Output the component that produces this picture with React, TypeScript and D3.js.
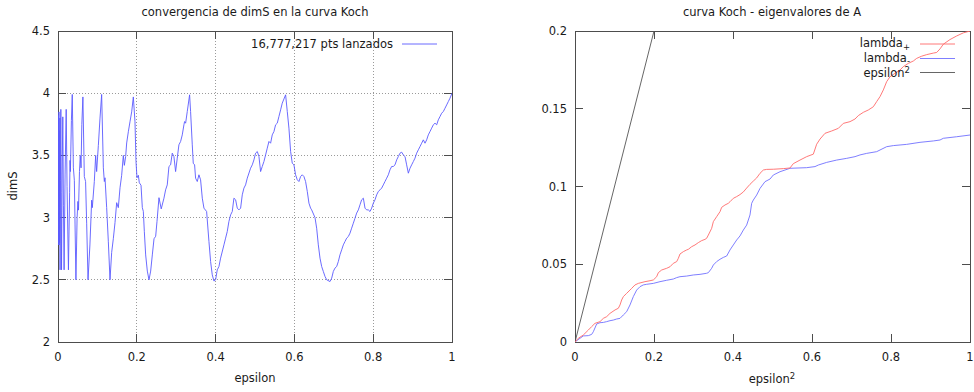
import React from "react";
import * as d3 from "d3";

// ---------- DATA ----------
const leftXTicks = [0, 0.2, 0.4, 0.6, 0.8, 1];
const leftYTicks = [2, 2.5, 3, 3.5, 4, 4.5];
const rightXTicks = [0, 0.2, 0.4, 0.6, 0.8, 1];
const rightYTicks = [0, 0.05, 0.1, 0.15, 0.2];

const leftTitle = "convergencia de dimS en la curva Koch";
const rightTitle = "curva Koch - eigenvalores de A";
const leftLegend = "16,777,217 pts lanzados";

// dimS vs epsilon
const dimSData: [number, number][] = [
  [0, 3.35], [0.0003, 2.78], [0.0006, 3.6], [0.0009, 2.95], [0.0012, 3.82], [0.0015, 2.8],
  [0.0018, 3.4], [0.0021, 3.1], [0.0024, 3.85], [0.0027, 2.78], [0.003, 3.55], [0.0033, 2.9],
  [0.0036, 3.7], [0.004, 2.8], [0.0044, 3.3], [0.0048, 3.8], [0.0052, 2.58], [0.0062, 3.3],
  [0.0072, 3.87], [0.008, 3.2], [0.009, 2.58], [0.0105, 3.35], [0.0122, 3.81], [0.0138, 3.1],
  [0.0155, 2.58], [0.018, 3.35], [0.0208, 3.87], [0.023, 3.25], [0.0265, 2.58], [0.0295, 3.2],
  [0.0305, 3.46], [0.0315, 3.37], [0.034, 3.78], [0.0362, 3.99], [0.039, 3.4], [0.0415, 3.3],
  [0.0435, 2.9], [0.0455, 2.5], [0.0485, 3.0], [0.0505, 3.13], [0.052, 3.06], [0.0545, 3.37],
  [0.0565, 3.5], [0.0585, 3.4], [0.0605, 3.75], [0.0632, 3.97], [0.0668, 3.33], [0.07, 3.29],
  [0.0728, 2.95], [0.0762, 2.5], [0.081, 2.78], [0.0855, 3.14], [0.0871, 3.08], [0.0922, 3.29],
  [0.0956, 3.5], [0.0981, 3.37], [0.1024, 3.58], [0.1066, 3.8], [0.1108, 3.99], [0.1151, 3.4],
  [0.1176, 3.29], [0.1193, 3.32], [0.1235, 3.08], [0.1277, 2.81], [0.132, 2.5], [0.1362, 2.72],
  [0.1404, 2.83], [0.1447, 2.96], [0.1489, 3.12], [0.1531, 3.08], [0.1574, 3.24], [0.1616, 3.34],
  [0.1658, 3.5], [0.1684, 3.42], [0.1717, 3.49], [0.1743, 3.6], [0.1785, 3.69], [0.1827, 3.77],
  [0.187, 3.85], [0.1912, 3.97], [0.1954, 3.77], [0.198, 3.45], [0.2005, 3.32], [0.2039, 3.34],
  [0.2064, 3.28], [0.2107, 3.26], [0.214, 3.08], [0.2166, 3.05], [0.2191, 2.89], [0.2225, 2.7],
  [0.2267, 2.57], [0.231, 2.5], [0.2352, 2.57], [0.2394, 2.7], [0.2437, 2.83], [0.2479, 2.85],
  [0.2513, 2.97], [0.2563, 3.16], [0.262, 3.07], [0.2689, 3.156], [0.2731, 3.223], [0.2773, 3.263],
  [0.2816, 3.411], [0.2858, 3.424], [0.29, 3.518], [0.2942, 3.491], [0.2985, 3.37], [0.3027, 3.478],
  [0.3069, 3.585], [0.3112, 3.612], [0.3154, 3.665], [0.3196, 3.746], [0.3213, 3.772], [0.3239, 3.759],
  [0.3281, 3.853], [0.334, 3.987], [0.3365, 3.853], [0.3408, 3.585], [0.3433, 3.437], [0.3467, 3.424],
  [0.3492, 3.317], [0.3535, 3.29], [0.3577, 3.344], [0.3619, 3.304], [0.3662, 3.156], [0.3704, 3.076],
  [0.3772, 3.049], [0.3831, 2.808], [0.3873, 2.647], [0.3915, 2.54], [0.3958, 2.49], [0.4, 2.5],
  [0.4042, 2.58], [0.4085, 2.607], [0.4127, 2.674], [0.4212, 2.781], [0.4254, 2.835], [0.4296, 2.888],
  [0.4338, 2.969], [0.4381, 3.022], [0.4423, 3.049], [0.4465, 3.156], [0.4508, 3.143], [0.455, 3.076],
  [0.4592, 3.062], [0.4635, 3.076], [0.4677, 3.183], [0.4719, 3.237], [0.4761, 3.263], [0.4804, 3.317],
  [0.4888, 3.397], [0.4931, 3.424], [0.4973, 3.464], [0.5015, 3.518], [0.5058, 3.531], [0.51, 3.491],
  [0.5142, 3.37], [0.5184, 3.411], [0.5227, 3.451], [0.5269, 3.504], [0.5311, 3.558], [0.5354, 3.612],
  [0.5396, 3.598], [0.5438, 3.665], [0.5481, 3.692], [0.5523, 3.746], [0.5565, 3.759], [0.5607, 3.812],
  [0.565, 3.866], [0.5692, 3.92], [0.5777, 3.987], [0.5819, 3.853], [0.5861, 3.719], [0.5904, 3.531],
  [0.5946, 3.437], [0.5988, 3.424], [0.603, 3.344], [0.6073, 3.304], [0.6115, 3.29], [0.6157, 3.33],
  [0.62, 3.344], [0.6242, 3.33], [0.6284, 3.29], [0.6327, 3.21], [0.6369, 3.116], [0.6411, 3.076],
  [0.6438, 3.062], [0.6523, 3.0], [0.6565, 2.915], [0.6607, 2.781], [0.665, 2.674], [0.6692, 2.607],
  [0.6734, 2.567], [0.6777, 2.527], [0.6819, 2.5], [0.6904, 2.486], [0.6946, 2.513], [0.6988, 2.567],
  [0.703, 2.594], [0.7073, 2.607], [0.7115, 2.647], [0.7157, 2.701], [0.72, 2.741], [0.7242, 2.781],
  [0.7284, 2.808], [0.7327, 2.835], [0.7369, 2.848], [0.7411, 2.875], [0.7453, 2.915], [0.7496, 2.955],
  [0.7538, 2.995], [0.758, 3.036], [0.7623, 3.062], [0.7665, 3.103], [0.7707, 3.143], [0.775, 3.156],
  [0.7792, 3.076], [0.7834, 3.062], [0.7876, 3.062], [0.7919, 3.049], [0.7961, 3.076], [0.8003, 3.116],
  [0.8046, 3.143], [0.8088, 3.183], [0.813, 3.21], [0.8173, 3.223], [0.8215, 3.237], [0.8257, 3.263],
  [0.8299, 3.29], [0.8342, 3.317], [0.8384, 3.344], [0.8426, 3.384], [0.8469, 3.411], [0.8511, 3.411],
  [0.8553, 3.424], [0.8596, 3.464], [0.8638, 3.491], [0.868, 3.518], [0.8723, 3.526], [0.8765, 3.504],
  [0.8807, 3.491], [0.8849, 3.424], [0.8892, 3.357], [0.8934, 3.397], [0.8976, 3.424], [0.9019, 3.451],
  [0.9061, 3.478], [0.9103, 3.518], [0.9146, 3.545], [0.9188, 3.571], [0.923, 3.598], [0.9272, 3.625],
  [0.9315, 3.598], [0.9357, 3.625], [0.9399, 3.665], [0.9442, 3.692], [0.9484, 3.719], [0.9526, 3.746],
  [0.9569, 3.759], [0.9611, 3.746], [0.9653, 3.786], [0.9695, 3.812], [0.9738, 3.839], [0.978, 3.853],
  [0.9822, 3.879], [0.9865, 3.906], [0.9907, 3.933], [0.9949, 3.96], [1.0, 4.0],
];

// lambda+ vs epsilon^2
const lambdaPlus: [number, number][] = [
  [0, 0], [0.0084, 0.0024], [0.0211, 0.0045], [0.0338, 0.0077], [0.0422, 0.0099], [0.0506, 0.012],
  [0.0633, 0.0131], [0.0717, 0.0152], [0.0802, 0.0163], [0.0886, 0.0184], [0.1013, 0.0206],
  [0.1097, 0.0217], [0.1139, 0.0238], [0.1181, 0.027], [0.1224, 0.0292], [0.1308, 0.0313],
  [0.1392, 0.0334], [0.1435, 0.0345], [0.1519, 0.0367], [0.1603, 0.0377], [0.1772, 0.0388],
  [0.1899, 0.0394], [0.1983, 0.0399], [0.2068, 0.042], [0.211, 0.0446], [0.2194, 0.0463],
  [0.2321, 0.0474], [0.2405, 0.0484], [0.2489, 0.0506], [0.2574, 0.0517], [0.2616, 0.0538],
  [0.2658, 0.0566], [0.2743, 0.0581], [0.2827, 0.0592], [0.2869, 0.0596], [0.2954, 0.0613],
  [0.3038, 0.0624], [0.3122, 0.0639], [0.3207, 0.0652], [0.3291, 0.066], [0.3333, 0.0667],
  [0.3376, 0.0688], [0.346, 0.0731], [0.3502, 0.0774], [0.3586, 0.0806], [0.3671, 0.0838],
  [0.3713, 0.0866], [0.3797, 0.0881], [0.3882, 0.0892], [0.3924, 0.0902], [0.4008, 0.0924],
  [0.4093, 0.0935], [0.4177, 0.0948], [0.4262, 0.0965], [0.4346, 0.099], [0.443, 0.1014],
  [0.4515, 0.1035], [0.4599, 0.1055], [0.4684, 0.1085], [0.4768, 0.1106], [0.4852, 0.111],
  [0.5021, 0.1111], [0.5274, 0.1115], [0.5443, 0.1119], [0.5527, 0.1147], [0.5696, 0.117],
  [0.5865, 0.1192], [0.6034, 0.1208], [0.6118, 0.1272], [0.6203, 0.1305], [0.6329, 0.1342],
  [0.6498, 0.1357], [0.6667, 0.1374], [0.6793, 0.1406], [0.6962, 0.1417], [0.7089, 0.1434],
  [0.7173, 0.1456], [0.73, 0.1477], [0.7426, 0.1492], [0.7553, 0.1513], [0.7637, 0.1546],
  [0.7722, 0.1578], [0.7806, 0.1621], [0.789, 0.1674], [0.7975, 0.1706], [0.8101, 0.1728],
  [0.8228, 0.1749], [0.8312, 0.1771], [0.8439, 0.1792], [0.8565, 0.1807], [0.865, 0.1824],
  [0.8776, 0.1838], [0.8903, 0.1848], [0.9072, 0.1858], [0.9156, 0.1862], [0.9241, 0.1885],
  [0.9325, 0.1915], [0.9494, 0.1945], [0.9662, 0.1968], [0.9831, 0.1988], [1.0, 0.2],
];

// lambda- vs epsilon^2
const lambdaMinus: [number, number][] = [
  [0, 0], [0.0127, 0.0024], [0.0211, 0.0039], [0.0338, 0.0041], [0.0422, 0.0049], [0.0464, 0.0066],
  [0.0549, 0.0116], [0.0633, 0.0124], [0.0717, 0.0126], [0.0802, 0.0131], [0.0886, 0.0137],
  [0.097, 0.0141], [0.1055, 0.0148], [0.1139, 0.0152], [0.1224, 0.0174], [0.1308, 0.0195],
  [0.1392, 0.0238], [0.1477, 0.0292], [0.1561, 0.0334], [0.1646, 0.0356], [0.173, 0.0367],
  [0.1814, 0.0371], [0.1983, 0.0377], [0.2152, 0.0388], [0.2321, 0.0397], [0.2489, 0.0405],
  [0.2574, 0.0414], [0.2658, 0.042], [0.2827, 0.0424], [0.2996, 0.0431], [0.3165, 0.0435],
  [0.3333, 0.0442], [0.3376, 0.0446], [0.346, 0.0474], [0.3502, 0.0495], [0.3586, 0.0517],
  [0.3671, 0.0532], [0.3755, 0.0544], [0.384, 0.0553], [0.3924, 0.0592], [0.4008, 0.0624],
  [0.4093, 0.0656], [0.4177, 0.0682], [0.4262, 0.072], [0.4346, 0.0752], [0.443, 0.0817],
  [0.4473, 0.0892], [0.4515, 0.0913], [0.4599, 0.0945], [0.4684, 0.0988], [0.481, 0.1031],
  [0.4937, 0.1048], [0.5021, 0.1074], [0.519, 0.1095], [0.5443, 0.1117], [0.5865, 0.1121],
  [0.6076, 0.1128], [0.616, 0.1138], [0.6371, 0.1155], [0.6624, 0.117], [0.6878, 0.1181],
  [0.7089, 0.1192], [0.7215, 0.1203], [0.7384, 0.1213], [0.7637, 0.1224], [0.789, 0.1256],
  [0.8059, 0.1263], [0.8397, 0.1271], [0.8734, 0.1284], [0.9072, 0.1293], [0.9241, 0.1299],
  [0.9325, 0.131], [0.9662, 0.132], [1.0, 0.1331],
];

// epsilon^2 reference line (y = x)
const epsSquared: [number, number][] = [[0, 0], [1, 1]];

// ---------- CHART ----------
const FONT = "'DejaVu Sans', sans-serif";
const FS = 11.5;
const SUB = 8.5;
const TXT = "#1a1a1a";
const AX = "#4d4d4d";

export default function App() {
  const xL = d3.scaleLinear().domain([0, 1]).range([58, 452]);
  const yL = d3.scaleLinear().domain([2, 4.5]).range([342, 31]);
  const xR = d3.scaleLinear().domain([0, 1]).range([575, 970]);
  const yR = d3.scaleLinear().domain([0, 0.2]).range([342, 31]);

  const lineL = d3.line<[number, number]>().x(d => xL(d[0])).y(d => yL(d[1]));
  const lineR = d3.line<[number, number]>().x(d => xR(d[0])).y(d => yR(d[1]));

  const tick = 8;

  const frame = (xs: any, ys: any) => {
    const [x0, x1] = xs.range();
    const [y0, y1] = ys.range();
    return (
      <rect x={x0} y={y1} width={x1 - x0} height={y0 - y1} fill="none" stroke={AX} strokeWidth={1} shapeRendering="crispEdges" />
    );
  };

  return (
    <svg width={974} height={392} style={{ position: "absolute", left: 0, top: 0, background: "#fff" }} fontFamily={FONT}>
      <defs>
        <clipPath id="clipR">
          <rect x={575} y={31} width={395} height={311} />
        </clipPath>
        <clipPath id="clipL">
          <rect x={58} y={31} width={394} height={311} />
        </clipPath>
      </defs>
      <rect x={0} y={0} width={974} height={392} fill="#fff" />

      {/* ---------- LEFT CHART ---------- */}
      {leftXTicks.filter(t => t > 0 && t < 1).map(t => (
        <line key={"gx" + t} x1={xL(t)} x2={xL(t)} y1={yL(2)} y2={yL(4.5)} stroke="#9a9a9a" strokeWidth={1} strokeDasharray="1,2" shapeRendering="crispEdges" />
      ))}
      {leftYTicks.filter(t => t > 2 && t < 4.5).map(t => (
        <line key={"gy" + t} x1={xL(0)} x2={xL(1)} y1={yL(t)} y2={yL(t)} stroke="#9a9a9a" strokeWidth={1} strokeDasharray="1,2" shapeRendering="crispEdges" />
      ))}
      {leftXTicks.map(t => (
        <g key={"tx" + t}>
          <line x1={xL(t)} x2={xL(t)} y1={yL(2)} y2={yL(2) - tick} stroke={AX} shapeRendering="crispEdges" />
          <line x1={xL(t)} x2={xL(t)} y1={yL(4.5)} y2={yL(4.5) + tick} stroke={AX} shapeRendering="crispEdges" />
          <text x={xL(t)} y={361} textAnchor="middle" fontSize={FS} fill={TXT}>{t}</text>
        </g>
      ))}
      {leftYTicks.map(t => (
        <g key={"ty" + t}>
          <line x1={xL(0)} x2={xL(0) + tick} y1={yL(t)} y2={yL(t)} stroke={AX} shapeRendering="crispEdges" />
          <line x1={xL(1)} x2={xL(1) - tick} y1={yL(t)} y2={yL(t)} stroke={AX} shapeRendering="crispEdges" />
          <text x={50} y={yL(t) + 4} textAnchor="end" fontSize={FS} fill={TXT}>{t}</text>
        </g>
      ))}
      {frame(xL, yL)}
      <path d={lineL(dimSData) || ""} fill="none" stroke="#5a5aff" strokeWidth={0.9} clipPath="url(#clipL)" />
      <text x={393} y={48} textAnchor="end" fontSize={FS} fill={TXT}>{leftLegend}</text>
      <line x1={402} x2={437} y1={44} y2={44} stroke="#5a5aff" strokeWidth={0.9} />
      <text x={255} y={16} textAnchor="middle" fontSize={FS} fill={TXT}>{leftTitle}</text>
      <text x={255} y={382} textAnchor="middle" fontSize={FS} fill={TXT}>epsilon</text>
      <text transform="translate(17,186) rotate(-90)" textAnchor="middle" fontSize={FS} fill={TXT}>dimS</text>

      {/* ---------- RIGHT CHART ---------- */}
      {rightXTicks.map(t => (
        <g key={"rtx" + t}>
          <line x1={xR(t)} x2={xR(t)} y1={yR(0)} y2={yR(0) - tick} stroke={AX} shapeRendering="crispEdges" />
          <line x1={xR(t)} x2={xR(t)} y1={yR(0.2)} y2={yR(0.2) + tick} stroke={AX} shapeRendering="crispEdges" />
          <text x={xR(t)} y={361} textAnchor="middle" fontSize={FS} fill={TXT}>{t}</text>
        </g>
      ))}
      {rightYTicks.map(t => (
        <g key={"rty" + t}>
          <line x1={xR(0)} x2={xR(0) + tick} y1={yR(t)} y2={yR(t)} stroke={AX} shapeRendering="crispEdges" />
          <line x1={xR(1)} x2={xR(1) - tick} y1={yR(t)} y2={yR(t)} stroke={AX} shapeRendering="crispEdges" />
          <text x={567} y={yR(t) + 4} textAnchor="end" fontSize={FS} fill={TXT}>{t}</text>
        </g>
      ))}
      {frame(xR, yR)}
      <g clipPath="url(#clipR)">
        <path d={lineR(epsSquared) || ""} fill="none" stroke="#555" strokeWidth={0.9} />
        <path d={lineR(lambdaMinus) || ""} fill="none" stroke="#7070ff" strokeWidth={0.9} />
        <path d={lineR(lambdaPlus) || ""} fill="none" stroke="#ff6a6a" strokeWidth={0.9} />
      </g>
      <text x={910} y={47} textAnchor="end" fontSize={FS} fill={TXT}>lambda<tspan fontSize={SUB} dy={3}>+</tspan></text>
      <line x1={920} x2={955} y1={44} y2={44} stroke="#ff6a6a" strokeWidth={0.9} />
      <text x={910} y={62} textAnchor="end" fontSize={FS} fill={TXT}>lambda<tspan fontSize={SUB} dy={2}>-</tspan></text>
      <line x1={920} x2={955} y1={58.5} y2={58.5} stroke="#7070ff" strokeWidth={0.9} />
      <text x={910} y={77} textAnchor="end" fontSize={FS} fill={TXT}>epsilon<tspan fontSize={SUB} dy={-4}>2</tspan></text>
      <line x1={920} x2={955} y1={72.5} y2={72.5} stroke="#555" strokeWidth={0.9} />
      <text x={772} y={16} textAnchor="middle" fontSize={FS} fill={TXT}>{rightTitle}</text>
      <text x={772} y={383} textAnchor="middle" fontSize={FS} fill={TXT}>epsilon<tspan fontSize={SUB} dy={-4}>2</tspan></text>
    </svg>
  );
}
